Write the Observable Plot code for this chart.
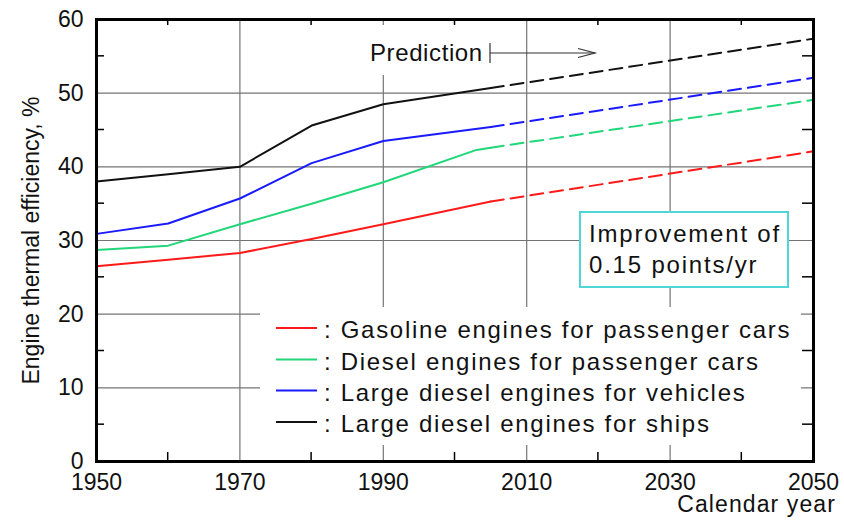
<!DOCTYPE html>
<html>
<head>
<meta charset="utf-8">
<script src="https://cdn.jsdelivr.net/npm/d3@7"></script>
<script src="https://cdn.jsdelivr.net/npm/@observablehq/plot@0.6"></script>
<style>
  html, body { margin: 0; padding: 0; background: #fff; }
  #chart { width: 844px; height: 520px; }
</style>
</head>
<body>
<div id="chart"></div>
<script>
// Engine thermal efficiency (%) by calendar year — historical trend
const histYears = [1950, 1960, 1970, 1980, 1990, 2005];
const dieselCarYears = [1950, 1960, 1970, 1980, 1990, 2003, 2005];
const gasolineCar = [26.5, 27.4, 28.3, 30.2, 32.2, 35.3];
const dieselCar = [28.7, 29.3, 32.2, 35.0, 37.9, 42.3, 42.6];
const dieselVehicle = [30.9, 32.3, 35.7, 40.5, 43.5, 45.4];
const dieselShip = [38.0, 39.0, 40.0, 45.6, 48.5, 50.7];

// Projection 2005 -> 2050
const predYears = [2005, 2050];
const gasolineCarPred = [35.3, 42.1];
const dieselCarPred = [42.6, 49.1];
const dieselVehiclePred = [45.4, 52.1];
const dieselShipPred = [50.7, 57.4];

const seriesNames = [
  "Gasoline engines for passenger cars",
  "Diesel engines for passenger cars",
  "Large diesel engines for vehicles",
  "Large diesel engines for ships"
];
const seriesColors = ["#ff1a1a", "#22d67a", "#1a1aff", "#111111"];

const xTicks = [1950, 1970, 1990, 2010, 2030, 2050];
const xMinor = [1960, 1980, 2000, 2020, 2040];
const yTicks = [0, 10, 20, 30, 40, 50, 60];
const yMinor = [5, 15, 25, 35, 45, 55];
const gridYears = [1970, 1990, 2010, 2030];
const gridValues = [10, 20, 30, 40, 50];

const improvementText = ["Improvement of", "0.15 points/yr"];
const predictionText = "Prediction";
const xTitle = "Calendar year";
const yTitle = "Engine thermal efficiency, %";

const series = [
  {name: seriesNames[0], color: seriesColors[0], years: histYears, values: gasolineCar, pred: gasolineCarPred},
  {name: seriesNames[1], color: seriesColors[1], years: dieselCarYears, values: dieselCar, pred: dieselCarPred},
  {name: seriesNames[2], color: seriesColors[2], years: histYears, values: dieselVehicle, pred: dieselVehiclePred},
  {name: seriesNames[3], color: seriesColors[3], years: histYears, values: dieselShip, pred: dieselShipPred}
];
const toRows = (ys, vs) => ys.map((year, i) => ({year, value: vs[i]}));

const FONT = "'Liberation Sans', Arial, Helvetica, sans-serif";

const plot = Plot.plot({
  width: 844,
  height: 520,
  marginLeft: 96,
  marginRight: 31,
  marginTop: 19,
  marginBottom: 59,
  style: {background: "white", fontFamily: FONT, fontSize: "23px", color: "#111", overflow: "visible"},
  x: {domain: [1950, 2050], ticks: xTicks, tickFormat: d => String(d), tickSize: 0, tickPadding: 12, label: null},
  y: {domain: [0, 60], ticks: yTicks, tickFormat: d => String(d), tickSize: 0, tickPadding: 13, label: null},
  marks: [
    Plot.ruleX(gridYears, {stroke: "#747474", strokeWidth: 1.2}),
    Plot.ruleY(gridValues, {stroke: "#747474", strokeWidth: 1.2}),
    ...series.flatMap(s => [
      Plot.line(toRows(s.years, s.values), {x: "year", y: "value", stroke: s.color, strokeWidth: 2}),
      Plot.line(toRows(predYears, s.pred), {x: "year", y: "value", stroke: s.color, strokeWidth: 2, strokeDasharray: "13,7"})
    ]),
    Plot.frame({stroke: "#000", strokeWidth: 3})
  ]
});

document.getElementById("chart").appendChild(plot);

const svg = d3.select(plot);
const sx = plot.scale("x"), sy = plot.scale("y");
const X = v => sx.apply(v), Y = v => sy.apply(v);
const frameLeft = X(1950), frameRight = X(2050), frameTop = Y(60), frameBottom = Y(0);

// White panels behind the annotations, placed under the data lines
const firstLine = plot.querySelector('g[aria-label="line"]');
const masks = d3.select(plot.insertBefore(document.createElementNS("http://www.w3.org/2000/svg", "g"), firstLine));
masks.append("rect").attr("x", 260).attr("y", 307).attr("width", 541).attr("height", 138).attr("fill", "white");
masks.append("rect").attr("x", 362).attr("y", 25).attr("width", 126).attr("height", 50).attr("fill", "white");
masks.append("rect").attr("x", 580).attr("y", 212).attr("width", 208).attr("height", 75)
  .attr("fill", "white").attr("stroke", "#4fd6d6").attr("stroke-width", 2);

// Inward minor ticks on all four sides
const ticks = svg.append("g").attr("stroke", "#000").attr("stroke-width", 1.5);
xMinor.forEach(v => {
  ticks.append("line").attr("x1", X(v)).attr("x2", X(v)).attr("y1", frameBottom).attr("y2", frameBottom - 9);
  ticks.append("line").attr("x1", X(v)).attr("x2", X(v)).attr("y1", frameTop).attr("y2", frameTop + 6);
});
yMinor.forEach(v => {
  ticks.append("line").attr("x1", frameLeft).attr("x2", frameLeft + 8).attr("y1", Y(v)).attr("y2", Y(v));
  ticks.append("line").attr("x1", frameRight).attr("x2", frameRight - 11).attr("y1", Y(v)).attr("y2", Y(v));
});

const text = (g, x, y, s, opts = {}) => g.append("text")
  .attr("x", x).attr("y", y).text(s)
  .attr("font-family", FONT).attr("font-size", opts.size || 23)
  .attr("letter-spacing", opts.ls || 0)
  .attr("text-anchor", opts.anchor || "start")
  .attr("fill", "#111");

// Legend
const legend = svg.append("g");
const rowY = [328, 359.5, 390.5, 422];
series.forEach((s, i) => {
  legend.append("line").attr("x1", 276).attr("x2", 317).attr("y1", rowY[i]).attr("y2", rowY[i])
    .attr("stroke", s.color).attr("stroke-width", 2);
  text(legend, 324, rowY[i] + 10, ": " + s.name, {size: 24, ls: 1.7});
});

// Improvement note
const note = svg.append("g");
text(note, 589, 242, improvementText[0], {size: 24, ls: 1.8});
text(note, 589, 273, improvementText[1], {size: 24, ls: 1.8});

// Prediction arrow
const pred = svg.append("g");
text(pred, 370, 61, predictionText, {size: 24, ls: 0.6});
pred.append("line").attr("x1", 490).attr("x2", 490).attr("y1", 43).attr("y2", 63).attr("stroke", "#333").attr("stroke-width", 1.2);
pred.append("line").attr("x1", 490).attr("x2", 595).attr("y1", 53).attr("y2", 53).attr("stroke", "#333").attr("stroke-width", 1.2);
pred.append("polyline").attr("points", "578,48.5 595,53 578,57.5").attr("fill", "none").attr("stroke", "#333").attr("stroke-width", 1.2);

// Axis titles
text(svg, 836, 512, xTitle, {size: 23, ls: 1.1, anchor: "end"});
text(svg, 0, 0, yTitle, {anchor: "middle"}).attr("transform", "translate(38.5,240.5) rotate(-90)");
</script>
</body>
</html>
